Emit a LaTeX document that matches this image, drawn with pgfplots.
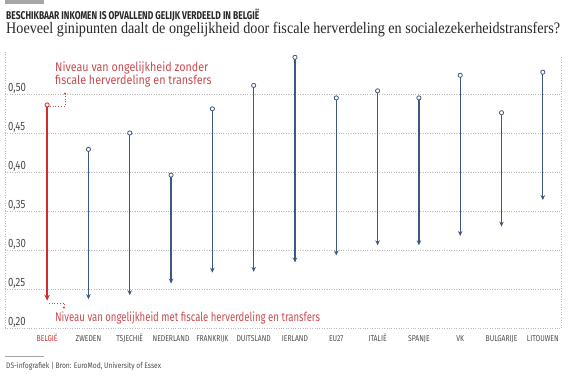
\documentclass[border=0pt]{standalone}
\usepackage{fontspec}
\usepackage{pgfplots}
\usepackage{pgfplotstable}
\pgfplotsset{compat=1.18}
\usetikzlibrary{arrows.meta}
\setmainfont{Fira Sans}
\newfontfamily\cond[FakeStretch=0.8]{Fira Sans}
\newfontfamily\condtop[FakeStretch=0.86]{Fira Sans}
\newfontfamily\condbot[FakeStretch=0.765]{Fira Sans}
\newfontfamily\condfoot[FakeStretch=0.84]{Fira Sans}
\newfontfamily\titlefont[FakeStretch=0.75]{Fira Sans}
\newfontfamily\subfont[FakeStretch=0.885]{Liberation Serif}
\definecolor{dsred}{RGB}{204,45,45}
\definecolor{annred}{RGB}{200,75,80}
\definecolor{dsblue}{RGB}{62,88,130}
\definecolor{labgray}{RGB}{75,75,75}
\definecolor{gridgray}{RGB}{185,185,185}
\pgfplotstableread{
x start end
1 0.429 0.237
2 0.450 0.242
3 0.396 0.257
4 0.481 0.271
5 0.511 0.272
6 0.547 0.284
7 0.495 0.293
8 0.504 0.306
9 0.495 0.306
10 0.524 0.318
11 0.476 0.330
12 0.528 0.364
}\others
\pgfplotstableread{
x start end
0 0.486 0.235
}\belgie
\begin{document}
\begin{tikzpicture}
\path[use as bounding box] (0,0) rectangle (568pt,380pt);
\begin{axis}[
  at={(5pt,52pt)}, anchor=south west,
  scale only axis, width=556pt, height=280.8pt,
  xmin=-1.02, xmax=12.44, ymin=0.2, ymax=0.56,
  axis line style={draw=none},
  clip=false,
  major tick length=0pt,
  tick style={draw=none},
  xtick={0,1,2,3,4,5,6,7,8,9,10,11,12},
  xticklabels={\textcolor{dsred}{BELGIË}, ZWEDEN, TSJECHIË, NEDERLAND, FRANKRIJK, DUITSLAND, IERLAND, EU27, ITALIË, SPANJE, VK, BULGARIJE, LITOUWEN},
  xticklabel style={anchor=base, yshift=-14pt, inner sep=0pt, font=\cond\fontsize{8.5}{10}\selectfont, text=labgray},
  ytick={0.20,0.25,0.30,0.35,0.40,0.45,0.50},
  yticklabel style={anchor=base west, xshift=3pt, yshift=2.5pt, inner sep=0pt, font=\cond\fontsize{12}{14}\selectfont, text=labgray,
    /pgf/number format/.cd, fixed, fixed zerofill, precision=2, use comma},
  /pgf/number format/assume math mode=true,
  ymajorgrids, grid style={dotted, gridgray, line width=0.6pt},
]
\draw[dotted, gridgray, line width=0.6pt] (axis cs:-1.02,0.2) -- (axis cs:-1.02,0.555);
\draw[dotted, gridgray, line width=0.6pt] (axis cs:12.44,0.2) -- (axis cs:12.44,0.55);
\addplot[dsblue, line width=1.3pt, -{Stealth[length=5pt,width=4.5pt]},
  quiver={u=0, v=\thisrow{end}-\thisrow{start}}] table[x=x, y=start] {\others};
\addplot[dsred, line width=2.6pt, -{Stealth[length=6pt,width=5.5pt]},
  quiver={u=0, v=\thisrow{end}-\thisrow{start}}] table[x=x, y=start] {\belgie};
\addplot[only marks, mark=*, mark size=2.1pt, mark options={fill=white, draw=dsblue, line width=0.8pt}]
  table[x=x, y=start] {\others};
\addplot[only marks, mark=*, mark size=2.1pt, mark options={fill=white, draw=dsred, line width=0.8pt}]
  table[x=x, y=start] {\belgie};
\end{axis}
\begin{scope}[x=1pt,y=1pt]
\fill[gray!70] (5,376) rectangle (44,380);
\node[anchor=base west, inner sep=0pt, text=black!85] at (6,360)
  {\titlefont\bfseries\fontsize{11.3}{12}\selectfont BESCHIKBAAR INKOMEN IS OPVALLEND GELIJK VERDEELD IN BELGIË};
\node[anchor=base west, inner sep=0pt, text=black!85] at (6,346)
  {\subfont\fontsize{16}{18}\selectfont Hoeveel ginipunten daalt de ongelijkheid door fiscale herverdeling en socialezekerheidstransfers?};
\node[anchor=base west, inner sep=0pt, text=annred] at (55,308)
  {\condtop\fontsize{12.5}{13}\selectfont Niveau van ongelijkheid zonder};
\node[anchor=base west, inner sep=0pt, text=annred] at (55,295.5)
  {\condtop\fontsize{12.5}{13}\selectfont fiscale herverdeling en transfers};
\node[anchor=base west, inner sep=0pt, text=annred] at (55,58.5)
  {\condbot\fontsize{12.5}{14}\selectfont Niveau van ongelijkheid met fiscale herverdeling en transfers};
\draw[annred, dotted, line width=0.7pt] (50,274) -- (65,274) -- (65,286);
\fill[annred] (65,286.5) circle (1.1);
\draw[annred, dotted, line width=0.7pt] (49,76.7) -- (64,76.7) -- (64,72.7);
\fill[annred] (64,72.5) circle (1.1);
\draw[gray!70, line width=0.5pt] (5,23.3) -- (44,23.3);
\node[anchor=base west, inner sep=0pt, text=labgray] at (6,11.7)
  {\condfoot\fontsize{8}{9}\selectfont DS-infografiek | Bron: EuroMod, University of Essex};
\end{scope}
\end{tikzpicture}
\end{document}
